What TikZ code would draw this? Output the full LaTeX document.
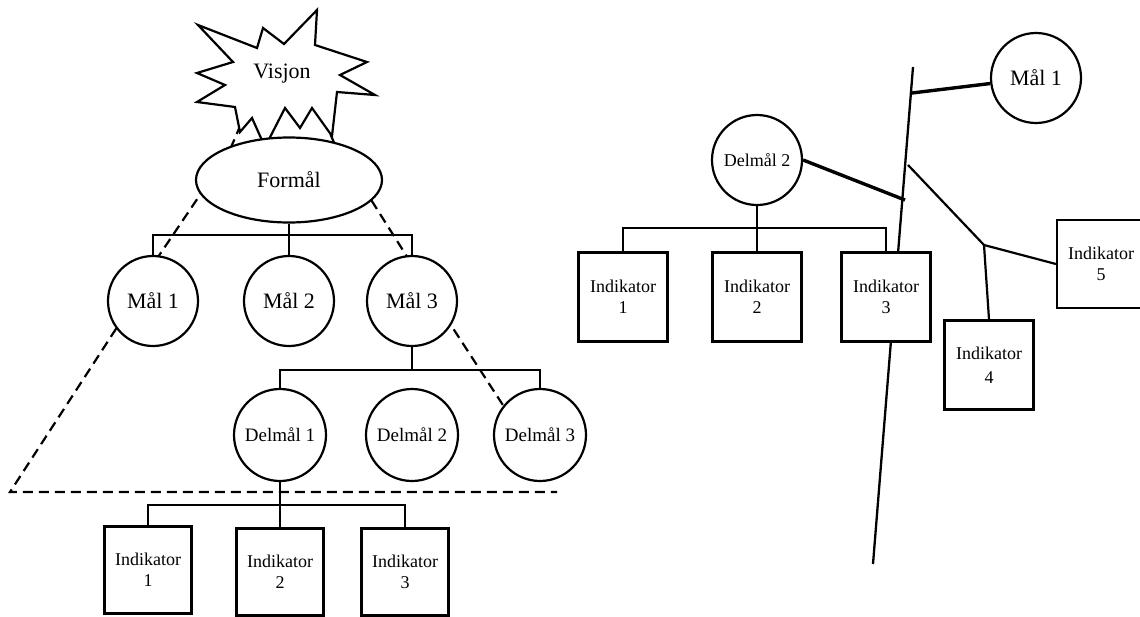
\documentclass[tikz,border=0pt]{standalone}
\usepackage{fontspec}
\setmainfont{Liberation Serif}
\usetikzlibrary{shapes.geometric}
\tikzset{
  goal/.style={draw,circle,fill=white,line width=2.2pt,minimum size=90pt,
    inner sep=0pt,font=\fontsize{22}{25}\selectfont},
  subgoal/.style={goal,minimum size=92pt,font=\fontsize{19}{22}\selectfont},
  indbox/.style={draw,rectangle,fill=white,line width=2.2pt,minimum size=87pt,
    inner sep=0pt,align=center,font=\fontsize{18}{21}\selectfont},
  burst/.style={draw,fill=white,line width=2.2pt,line join=miter},
  link/.style={line width=2.2pt},
  heavy/.style={line width=3.4pt},
  guide/.style={line width=2.2pt,dash pattern=on 10pt off 6pt}
}

\begin{document}
\begin{tikzpicture}[x=1pt,y=-1pt]
  \useasboundingbox (0,0) rectangle (1140,616);
  % dashed guides and the long axis go first, the white shapes cover them
  \draw[guide] (247,110) -- (229,152);
  \draw[guide] (318,105) -- (338,152);
  \draw[guide] (206,186) -- (154,263);
  \draw[guide] (363,187) -- (411,263);
  \draw[guide] (125,315) -- (10,492) -- (557,492);
  \draw[guide] (445,316) -- (512,419);
  \coordinate (axtop) at (913,67);
  \coordinate (axbot) at (873,564);
  \draw[line width=2.3pt] (axtop) -- (axbot);

  % left tree
  \draw[burst] (198,25) -- (257,48) -- (263,28) -- (284,44) -- (317,10)
    -- (315,45) -- (367,62) -- (340,75) -- (375,95) -- (337,92)
    -- (332,136) -- (312,108) -- (300,128) -- (285,108) -- (265,147)
    -- (252,118) -- (240,132) -- (235,107) -- (197,102) -- (225,85)
    -- (197,73) -- (233,62) -- cycle;
  \node[font=\fontsize{22}{25}\selectfont] (visjon) at (282,74) {Visjon};
  \node[ellipse,draw,fill=white,line width=2.2pt,minimum width=186pt,
    minimum height=85pt,font=\fontsize{22}{25}\selectfont] (formal) at (289,180) {Formål};
  \node[goal] (mal1) at (153,301) {Mål 1};
  \node[goal] (mal2) at (289,301) {Mål 2};
  \node[goal] (mal3) at (412,301) {Mål 3};
  \node[subgoal] (del1) at (280,435) {Delmål 1};
  \node[subgoal] (del2) at (412,435) {Delmål 2};
  \node[subgoal] (del3) at (540,435) {Delmål 3};
  \node[indbox] (ind1) at (148,570) {Indikator\\1};
  \node[indbox] (ind2) at (280,572) {Indikator\\2};
  \node[indbox] (ind3) at (405,572) {Indikator\\3};

  \coordinate (bar1) at (0,235);
  \coordinate (bar2) at (0,370);
  \coordinate (bar3) at (0,505);
  \draw[link] (formal) -- (mal2);
  \draw[link] (mal1.north) |- (bar1 -| mal3) -- (mal3.north);
  \draw[link] (mal3) -- (mal3 |- bar2);
  \draw[link] (del1.north) |- (bar2 -| del3) -- (del3.north);
  \draw[link] (del1) -- (ind2);
  \draw[link] (ind1.north) |- (bar3 -| ind3) -- (ind3.north);

  % right part
  \node[goal] (rmal1) at (1036,78) {Mål 1};
  \node[goal,font=\fontsize{18}{21}\selectfont] (rdel2) at (757,160) {Delmål 2};
  \node[indbox,minimum size=89pt] (rind1) at (623,297) {Indikator\\1};
  \node[indbox,minimum size=89pt] (rind2) at (757,297) {Indikator\\2};
  \node[indbox,minimum size=89pt] (rind3) at (886,297) {Indikator\\3};
  \node[indbox,minimum size=89pt] (rind4) at (989,365) {Indikator\\[3pt]4};
  \node[indbox,minimum size=88pt] (rind5) at (1101,264) {Indikator\\5};

  \coordinate (bar4) at (0,228);
  \coordinate (ax1) at (912,93);
  \coordinate (ax2) at (905,200);
  \coordinate (ax3) at (908,165);
  \coordinate (fork) at (984,245);
  \draw[link] (rdel2) -- (rind2);
  \draw[link] (rind1.north) |- (bar4 -| rind3) -- (rind3.north);
  \draw[heavy] (ax1) -- (rmal1);
  \draw[heavy] (rdel2.east) -- (ax2);
  \draw[link] (ax3) -- (fork) -- (rind5.west);
  \draw[link] (fork) -- (rind4.north);
\end{tikzpicture}
\end{document}
